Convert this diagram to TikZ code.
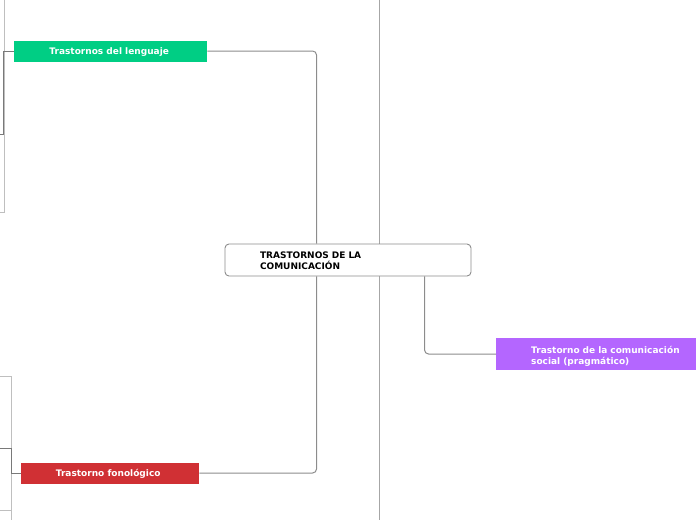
\documentclass[tikz,border=0pt]{standalone}
\usepackage{fontspec}
\setmainfont{DejaVu Sans}
\usepackage{xcolor}
\usetikzlibrary{positioning,calc}

\definecolor{langgreen}{HTML}{00CE84}
\definecolor{fonored}{HTML}{D03034}
\definecolor{pragpurple}{HTML}{B466FF}
\definecolor{linkgray}{HTML}{8C8C8C}

\begin{document}
\begin{tikzpicture}[
    x=1pt, y=-1pt,
    central/.style={rectangle, draw=linkgray, fill=white, rounded corners=4pt, line width=0.9pt,
                    text width=176pt, inner xsep=35pt, inner ysep=0pt, minimum height=32pt,
                    text depth=9pt, align=left, font=\fontsize{9}{11}\selectfont\bfseries},
    topic/.style={rectangle, text=white, inner sep=0pt, minimum height=21pt, text depth=0pt,
                  align=center, font=\fontsize{9}{11}\selectfont\bfseries},
    wide/.style={rectangle, text=white, text width=165pt, inner xsep=35pt, inner ysep=0pt,
                 minimum height=32pt, text depth=9pt, align=left,
                 font=\fontsize{9}{11}\selectfont\bfseries},
    link/.style={draw=linkgray, line width=1pt, rounded corners=4pt},
    faint/.style={draw=gray!50, line width=1pt},
    dark/.style={draw=gray!95!black, line width=1pt}
]
\clip (0,0) rectangle (696,520);

% trunk behind the central topic
\coordinate (trunktop) at (379,0);
\coordinate (trunkbot) at (379,520);
\draw[faint, draw=gray!70] (trunktop) -- (trunkbot);

\node[central] (comm) at (348,260) {TRASTORNOS DE LA\\COMUNICACIÓN};

\node[topic, fill=langgreen, minimum width=193pt, anchor=west] (lang) at (14,51) {Trastornos del lenguaje\hspace*{3pt}};
\node[topic, fill=fonored, minimum width=178pt, anchor=west] (fono) at (21,473) {Trastorno fonológico\hspace*{4pt}};
\node[wide, fill=pragpurple, anchor=west] (prag) at (496,354) {Trastorno de la comunicación\\social (pragmático)};

\draw[link] (lang.east) -| ([xshift=92pt]comm.north west);
\draw[link] (fono.east) -| ([xshift=92pt]comm.south west);
\draw[link] ([xshift=200pt]comm.south west) |- (prag.west);

% branches running off the left edge
\coordinate (upA) at (4,0);
\coordinate (kidA) at (0,212);
\coordinate (kidB) at (0,134);
\coordinate (kidC) at (0,376);
\coordinate (endC) at (11,520);
\coordinate (kidD) at (0,448);
\coordinate (kidE) at (0,510);
\draw[faint] (upA) |- (kidA);
\draw[dark] (lang.west) -- ++(-11,0) |- (kidB);
\draw[faint] (kidC) -| (endC);
\draw[faint] (kidE) -| (11,473);
\draw[dark] (fono.west) -- ++(-10,0) |- (kidD);
\end{tikzpicture}
\end{document}
